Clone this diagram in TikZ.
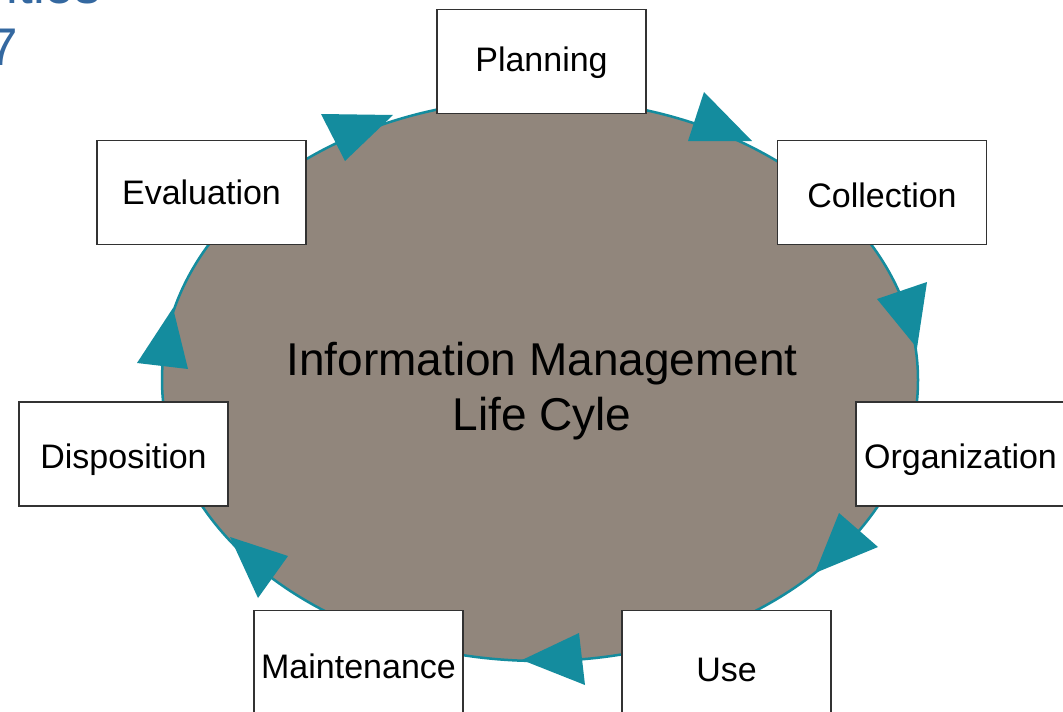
\documentclass[tikz,border=0pt]{standalone}
\usepackage{fontspec}
\setmainfont{Liberation Sans}
\definecolor{blobfill}{RGB}{145,134,124}
\definecolor{tealc}{RGB}{20,140,158}
\definecolor{titleblue}{RGB}{52,104,160}
\definecolor{boxline}{RGB}{50,50,50}
\begin{document}
\begin{tikzpicture}[x=1pt,y=-1pt,
  stagebox/.style={draw=boxline, line width=1.3pt, fill=white, minimum width=209pt, minimum height=104pt, inner sep=0pt},
  stagelbl/.style={anchor=base, font=\fontsize{34}{40}\selectfont, inner sep=0pt},
  centerlbl/.style={anchor=base, font=\fontsize{46}{54}\selectfont, inner sep=0pt},
  titlelbl/.style={font=\fontsize{53}{60}\selectfont, text=titleblue, inner sep=0pt},
  arrowtri/.style={fill=tealc},
  blob/.style={draw=tealc, line width=2.5pt, fill=blobfill}
]
\useasboundingbox (0,0) rectangle (1063,712);
\clip (0,0) rectangle (1063,712);
\fill[white] (0,0) rectangle (1063,712);

% cut-off title
\node[titlelbl, anchor=base east] (titleA) at (101,4) {ities};
\node[titlelbl, anchor=base west] (titleB) at (-12,65) {7};

% blob
\draw[blob] (540,380) ellipse [x radius=378, y radius=281];

% arrowheads
\fill[arrowtri] (321,114) -- (393,115) -- (345,161) -- cycle;
\fill[arrowtri] (704,92) -- (688,141) -- (752,141) -- cycle;
\fill[arrowtri] (877,299) -- (927,282) -- (917,348) -- cycle;
\fill[arrowtri] (839,513) -- (878,547) -- (815,573) -- cycle;
\fill[arrowtri] (579,633) -- (585,685) -- (522,660) -- cycle;
\fill[arrowtri] (230,537) -- (288,556) -- (258,598) -- cycle;
\fill[arrowtri] (173,308) -- (137,363) -- (188,369) -- cycle;

% center text
\node[centerlbl] (imA) at (542,375) {Information Management};
\node[centerlbl] (imB) at (542,430) {Life Cyle};

% stage boxes
\node[stagebox] (plan) at (541.5,61.5) {};
\node[stagebox] (coll) at (882,192.5) {};
\node[stagebox] (org)  at (960.5,454) {};
\node[stagebox] (use)  at (726.5,662.5) {};
\node[stagebox] (mnt)  at (358.5,662.5) {};
\node[stagebox] (disp) at (123.5,454) {};
\node[stagebox] (eval) at (201.5,192.5) {};

\node[stagelbl] (planT) at (541.5,71) {Planning};
\node[stagelbl] (collT) at (882,207) {Collection};
\node[stagelbl] (orgT)  at (960.5,468) {Organization};
\node[stagelbl] (useT)  at (726.5,681) {Use};
\node[stagelbl] (mntT)  at (358.5,678) {Maintenance};
\node[stagelbl] (dispT) at (123.5,468) {Disposition};
\node[stagelbl] (evalT) at (201.5,204) {Evaluation};
\end{tikzpicture}
\end{document}
